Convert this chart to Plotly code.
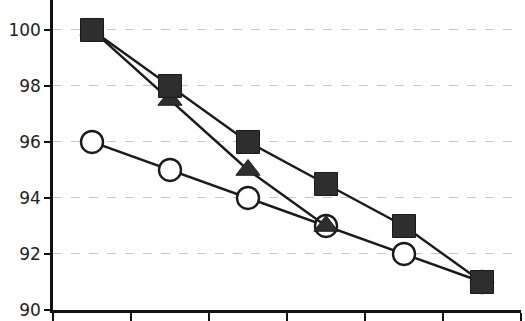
import plotly.graph_objects as go

categories = ["1", "2", "3", "4", "5", "6"]
squares = [100, 98, 96, 94.5, 93, 91]
triangles = [100, 97.5, 95, 93, None, None]
circles = [96, 95, 94, 93, 92, 91]
y_ticks = [90, 92, 94, 96, 98, 100]

fig = go.Figure()
fig.add_trace(go.Scatter(x=categories, y=circles, mode="lines+markers",
                         line=dict(color="#1a1a1a", width=2.4),
                         marker=dict(symbol="circle", size=22, color="white",
                                     line=dict(color="#1a1a1a", width=2.4))))
fig.add_trace(go.Scatter(x=categories, y=triangles, mode="lines+markers",
                         line=dict(color="#1a1a1a", width=2.4),
                         marker=dict(symbol="triangle-up", size=21, color="#2e2e2e",
                                     line=dict(color="#1a1a1a", width=1))))
fig.add_trace(go.Scatter(x=categories, y=squares, mode="lines+markers",
                         line=dict(color="#1a1a1a", width=2.4),
                         marker=dict(symbol="square", size=23, color="#2e2e2e",
                                     line=dict(color="#1a1a1a", width=1))))

fig.update_layout(
    width=525, height=321,
    margin=dict(l=53, r=4, t=0, b=11),
    paper_bgcolor="white", plot_bgcolor="white",
    showlegend=False,
    font=dict(family="DejaVu Sans, Arial, sans-serif", size=17, color="#222"),
)
fig.update_xaxes(type="category", range=[-0.5, 5.5], showticklabels=False,
                 showline=True, linecolor="#111", linewidth=2.5,
                 ticks="outside", tickson="boundaries", ticklen=9,
                 tickwidth=2, tickcolor="#111", showgrid=False, zeroline=False)
fig.update_yaxes(range=[90, 101.07], tickvals=y_ticks,
                 showline=True, linecolor="#111", linewidth=2.5,
                 ticks="outside", ticklen=6, tickwidth=2, tickcolor="#111",
                 showgrid=True, gridcolor="#c8c8c8", griddash="dash", gridwidth=1,
                 zeroline=False)

fig.write_html("out.html")
